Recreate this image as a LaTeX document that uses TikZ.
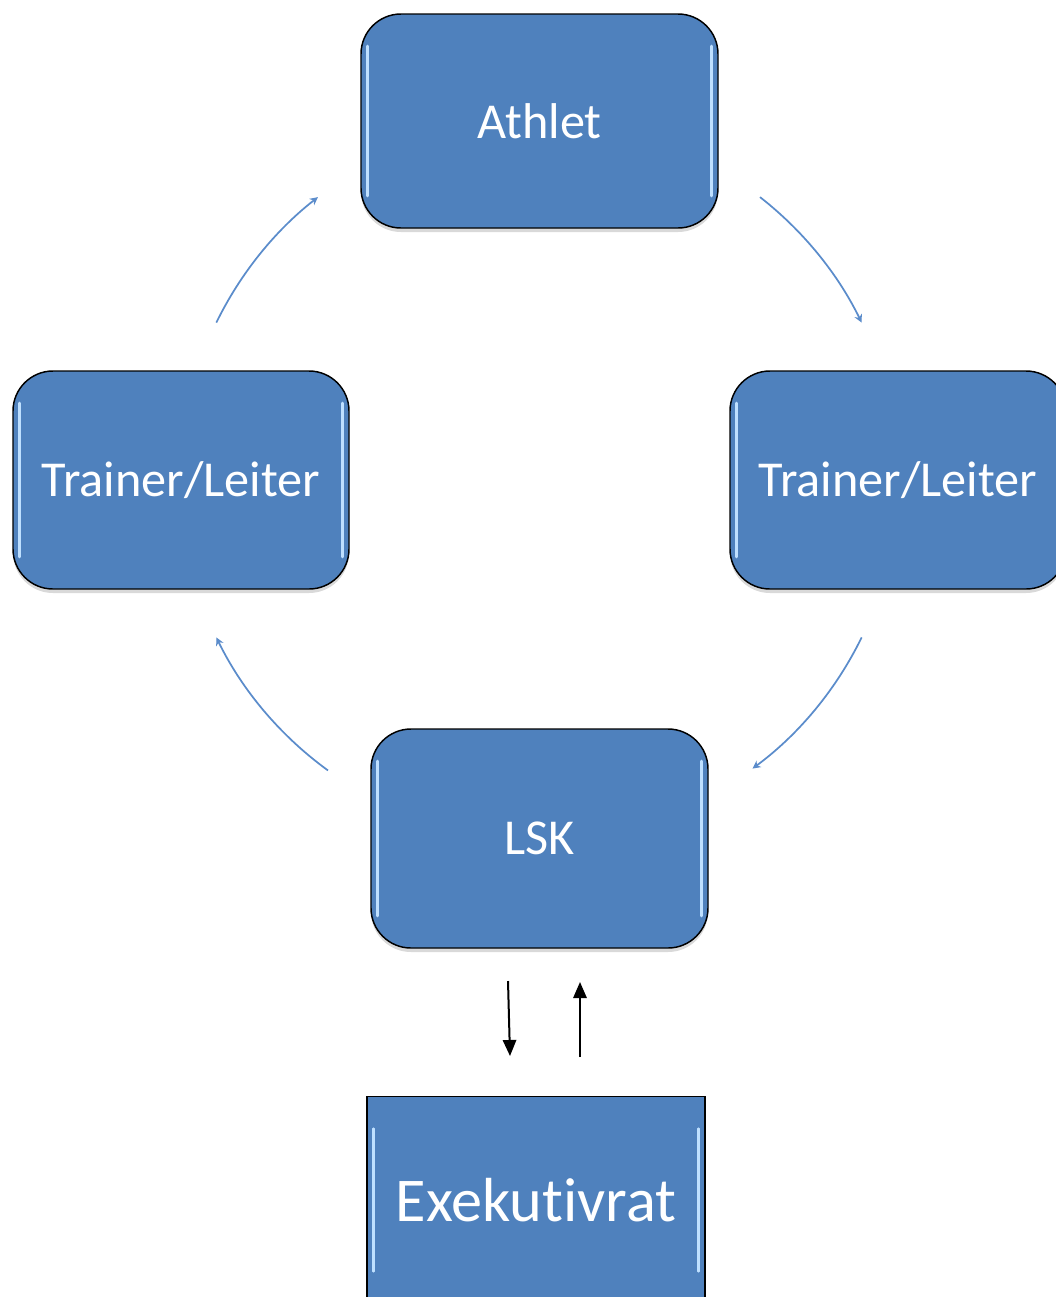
\documentclass[tikz,border=0pt]{standalone}
\usepackage{fontspec}
\setmainfont{Carlito}[Ligatures=NoCommon]
\usetikzlibrary{arrows.meta,shadows}
\definecolor{boxblue}{HTML}{4F81BD}
\definecolor{arcblue}{HTML}{5B8CCB}
\definecolor{gloss}{HTML}{BFE0FF}
\tikzset{
        panel/.style={draw=black, line width=1.1pt, fill=boxblue, text=white,
            rounded corners=30pt, minimum width=252pt, minimum height=163.5pt,
            font=\fontsize{37.7}{42}\selectfont,
            drop shadow={shadow xshift=0pt, shadow yshift=-3pt, opacity=0.3},
            path picture={
                \draw[gloss, line width=2pt, line cap=round]
                    ([shift={(5pt,-24pt)}]path picture bounding box.north west) --
                    ([shift={(5pt,24pt)}]path picture bounding box.south west);
                \draw[gloss, line width=2pt, line cap=round]
                    ([shift={(-5pt,-24pt)}]path picture bounding box.north east) --
                    ([shift={(-5pt,24pt)}]path picture bounding box.south east);
            }},
        council/.style={panel, sharp corners, minimum width=253.5pt, minimum height=155pt,
            font=\fontsize{46.7}{50}\selectfont},
        cycle/.style={draw=arcblue, line width=1.3pt, -{Stealth[length=6pt,width=6pt]}},
        link/.style={draw=black, line width=1.5pt, -{Triangle[length=12pt,width=10pt]}}
}
\begin{document}
\begin{tikzpicture}[x=0.75pt,y=0.75pt]
        \clip (0,0) rectangle (1056,-1297);
        \node[panel, minimum width=267.75pt, minimum height=160.5pt] (athlet) at (539.5,-121) {Athlet};
        \node[panel] (trainerL) at (181,-480) {Trainer/Leiter};
        \node[panel] (trainerR) at (898,-480) {Trainer/Leiter};
        \node[panel, minimum width=252.75pt, minimum height=164.25pt] (lsk) at (539.5,-838.5) {LSK};
        \node[council] (exec) at (536,-1200) {Exekutivrat};
        % cycle arcs
        \coordinate (hub) at (539,-480);
        \draw[cycle] ([shift={(154:359)}]hub) arc (154:128:359);
        \draw[cycle] ([shift={(52:359)}]hub) arc (52:26:359);
        \draw[cycle] ([shift={(-26:359)}]hub) arc (-26:-53.5:359);
        \draw[cycle] ([shift={(-126:359)}]hub) arc (-126:-154:359);
        % lsk <-> exekutivrat
        \coordinate (downA) at (508,-981);
        \coordinate (downB) at (510,-1056);
        \coordinate (upA) at (580,-1057);
        \coordinate (upB) at (580,-982);
        \draw[link] (downA) -- (downB);
        \draw[link] (upA) -- (upB);
\end{tikzpicture}
\end{document}
